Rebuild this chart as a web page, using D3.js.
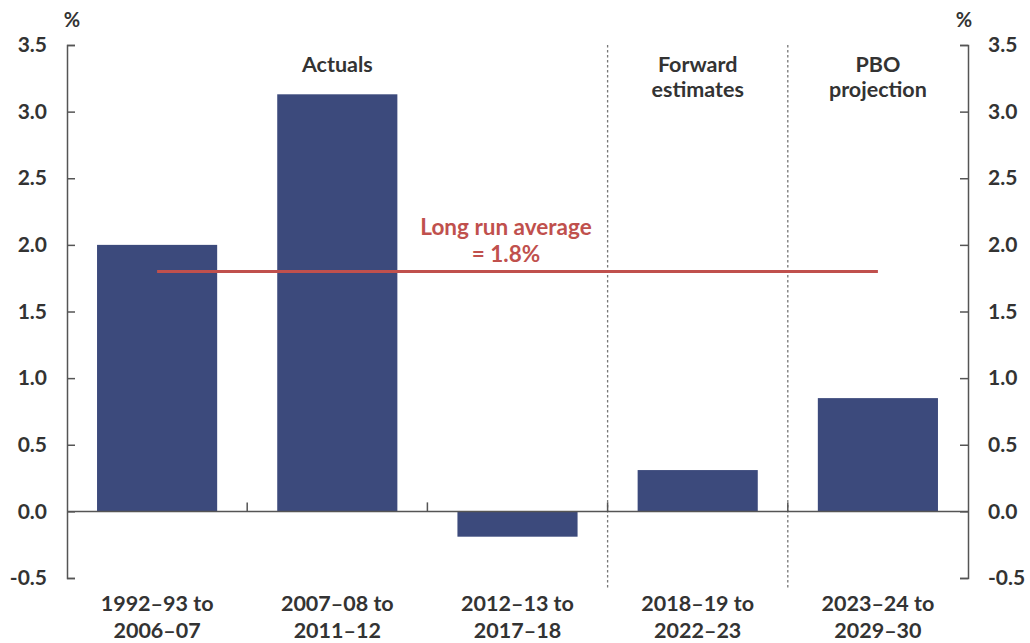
<!DOCTYPE html>
<html><head><meta charset="utf-8">
<script src="https://cdn.jsdelivr.net/npm/d3@7"></script>
<style>
html,body{margin:0;padding:0;background:#fff;}
text{font-family:Lato,"Open Sans",sans-serif;font-weight:bold;fill:#333;}
</style></head>
<body>
<svg id="c" width="1030" height="643"></svg>
<script>
const categories = [["1992–93 to","2006–07"],["2007–08 to","2011–12"],["2012–13 to","2017–18"],["2018–19 to","2022–23"],["2023–24 to","2029–30"]];
const values = [2.0, 3.13, -0.19, 0.31, 0.85];
const yTicks = [-0.5, 0.0, 0.5, 1.0, 1.5, 2.0, 2.5, 3.0, 3.5];
const longRunAverage = 1.8;
const sections = [
  {label:["Actuals"], from:0, to:3},
  {label:["Forward","estimates"], from:3, to:4},
  {label:["PBO","projection"], from:4, to:5}
];

const svg = d3.select("#c");
const L = 67, R = 968, T = 45, B = 578;
const x = d3.scaleBand().domain(d3.range(values.length)).range([L, R]).paddingInner(1/3).paddingOuter(1/6);
const y = d3.scaleLinear().domain([-0.5, 3.5]).range([B, T]);
const step = x.step();
const edge = i => L + i * step;
const fmt = d => d.toFixed(1);

const bar = "#3c4a7c", axisC = "#555", red = "#c0504d";

// bars
svg.selectAll("rect.bar").data(values).join("rect")
  .attr("x", (d,i) => x(i)).attr("width", x.bandwidth())
  .attr("y", d => y(Math.max(0,d))).attr("height", d => Math.abs(y(d)-y(0)))
  .attr("fill", bar);

// section dividers (dotted)
sections.slice(1).forEach(s => {
  svg.append("line").attr("x1", edge(s.from)).attr("x2", edge(s.from))
    .attr("y1", T).attr("y2", 590).attr("stroke", "#777").attr("stroke-width", 1.3)
    .attr("stroke-dasharray", "2.5,2.5");
});

// axes
const yl = d3.axisLeft(y).tickValues(yTicks).tickSize(-8).tickPadding(20).tickFormat(fmt);
const gl = svg.append("g").attr("transform", `translate(${L},0)`).call(yl);
const yr = d3.axisRight(y).tickValues(yTicks).tickSize(-8).tickPadding(20).tickFormat(fmt);
const gr = svg.append("g").attr("transform", `translate(${R},0)`).call(yr);
[gl, gr].forEach(g => {
  g.select(".domain").attr("stroke", axisC).attr("stroke-width", 1.5);
  g.selectAll(".tick line").attr("stroke", axisC).attr("stroke-width", 1.5);
  g.selectAll(".tick text").attr("font-size", 21).attr("fill", "#333").attr("font-family", "Lato, 'Open Sans', sans-serif").attr("font-weight", "bold");
});

// zero line
svg.append("line").attr("x1", L).attr("x2", R).attr("y1", y(0)).attr("y2", y(0))
  .attr("stroke", axisC).attr("stroke-width", 1.5);
// category ticks
d3.range(1, values.length).forEach(i => {
  svg.append("line").attr("x1", edge(i)).attr("x2", edge(i)).attr("y1", y(0)).attr("y2", y(0) - 9)
    .attr("stroke", axisC).attr("stroke-width", 1.5);
});

// % labels
svg.append("text").attr("x", 72).attr("y", 27).attr("text-anchor", "middle").attr("font-size", 20).text("%");
svg.append("text").attr("x", 964).attr("y", 27).attr("text-anchor", "middle").attr("font-size", 20).text("%");

// category labels
categories.forEach((c, i) => {
  const t = svg.append("text").attr("x", x(i) + x.bandwidth()/2).attr("text-anchor", "middle").attr("font-size", 21.5);
  c.forEach((line, j) => t.append("tspan").attr("x", x(i) + x.bandwidth()/2).attr("y", 611 + j*27).text(line));
});

// section labels
sections.forEach(s => {
  const cx = (s.from === 0) ? x(1) + x.bandwidth()/2 : (edge(s.from) + edge(s.to)) / 2;
  const t = svg.append("text").attr("text-anchor", "middle").attr("font-size", 21.5);
  s.label.forEach((line, j) => t.append("tspan").attr("x", cx).attr("y", 72 + j*25).text(line));
});

// long run average
svg.append("line").attr("x1", x(0) + x.bandwidth()/2).attr("x2", x(4) + x.bandwidth()/2)
  .attr("y1", y(longRunAverage)).attr("y2", y(longRunAverage)).attr("stroke", red).attr("stroke-width", 3);
const lt = svg.append("text").attr("text-anchor", "middle").attr("font-size", 22.5).style("fill", red);
lt.append("tspan").attr("x", 506).attr("y", 235).text("Long run average");
lt.append("tspan").attr("x", 506).attr("y", 262).text("= 1.8%");
</script>
</body></html>
